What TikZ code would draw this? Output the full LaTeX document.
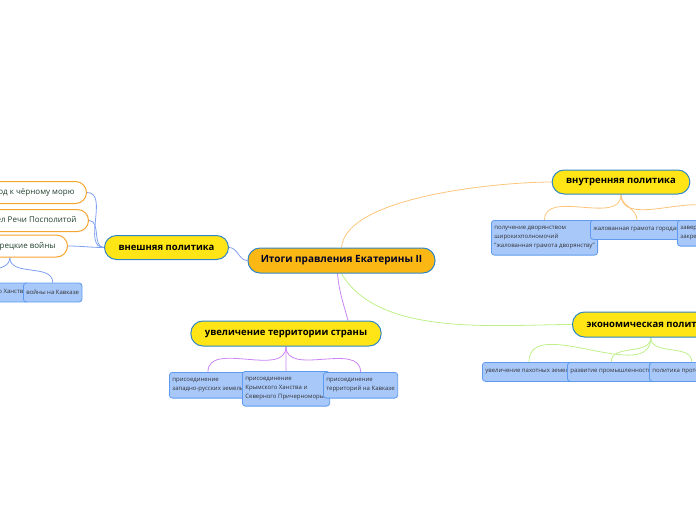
\documentclass[tikz,border=0pt]{standalone}
\usepackage{fontspec}
\setmainfont{Open Sans}
\usetikzlibrary{positioning,backgrounds}
\definecolor{rootfill}{HTML}{FBB714}
\definecolor{topicfill}{HTML}{FFE516}
\definecolor{nodeline}{HTML}{2F86C6}
\definecolor{leaffill}{HTML}{A8C8FA}
\definecolor{leafline}{HTML}{5E9BEE}
\definecolor{subline}{HTML}{F7A531}
\definecolor{subtext}{HTML}{21402F}
\definecolor{extlink}{HTML}{7E9EF2}
\definecolor{intlink}{HTML}{FDC47C}
\definecolor{ecolink}{HTML}{BFF08A}
\definecolor{terlink}{HTML}{CC84F6}
\begin{document}
\begin{tikzpicture}[x=1pt, y=1pt,
  root/.style={draw=nodeline, fill=rootfill, rounded corners=12pt, line width=1pt,
               minimum height=25pt, minimum width=187pt,
               font=\fontsize{10}{12}\selectfont\bfseries, text=black!85!blue},
  topic/.style={draw=nodeline, fill=topicfill, rounded corners=12pt, line width=1pt,
                minimum height=24pt, inner xsep=14pt, font=\fontsize{9.5}{11}\selectfont\bfseries},
  sub/.style={draw=subline, fill=white, rounded corners=11pt, line width=1pt,
              minimum height=22pt, inner xsep=12pt, font=\fontsize{8}{10}\selectfont, text=subtext},
  leaf/.style={draw=leafline, fill=leaffill, rounded corners=3pt, line width=0.8pt,
               inner xsep=3pt, inner ysep=6pt, minimum height=19pt, align=left,
               font=\fontsize{6}{9}\selectfont, text=black!80},
  link/.style={line width=0.8pt}]
  \useasboundingbox (0,0) rectangle (696,-520);
  \clip (0,0) rectangle (696,-520);
  % main topics
  \node[root] (root) at (341.5,-260.5) {Итоги правления Екатерины II};
  \node[topic, minimum width=122pt] (ext) at (166.5,-247.5) {внешняя политика};
  \node[topic, minimum width=136pt] (intl) at (621,-182) {внутренняя политика};
  \node[topic, anchor=west, minimum height=25pt] (econ) at (572,-324.5) {экономическая политика};
  \node[topic, minimum width=187pt, minimum height=25pt] (terr) at (286,-333.5) {увеличение территории страны};
  % foreign policy
  \node[sub, anchor=east] (sea) at (87,-192.5) {выход к чёрному морю};
  \node[sub, anchor=east] (rzp) at (89,-220.5) {раздел Речи Посполитой};
  \node[sub, anchor=east] (rtw) at (68,-246) {русско-турецкие войны};
  \node[leaf, anchor=east] (crim) at (30,-292.5) {присоединение Крымского Ханства};
  \node[leaf, anchor=west] (cauc) at (23,-292.5) {войны на Кавказе};
  % home policy
  \node[leaf, anchor=north west] (nobl) at (491,-220) {получение дворянством\\широкихполномочий\\"жалованная грамота дворянству"};
  \node[leaf, anchor=north west] (town) at (590,-220) {жалованная грамота городам};
  \node[leaf, anchor=north west] (serf) at (677,-220) {завершение\\закрепощения крестьян};
  % economy
  \node[leaf, anchor=north west] (land) at (482,-362) {увеличение пахотных земель};
  \node[leaf, anchor=north west] (ind) at (567,-362) {развитие промышленности};
  \node[leaf, anchor=north west] (prot) at (649,-362) {политика протекционизма};
  % territory
  \node[leaf, anchor=north west] (west) at (169,-372) {присоединение\\западно-русских земель};
  \node[leaf, anchor=north west] (crimea) at (242,-371) {присоединение\\Крымского Ханства и\\Северного Причерноморья};
  \node[leaf, anchor=north west] (kavk) at (323,-372) {присоединение\\территорий на Кавказе};
  \begin{scope}[on background layer]
    \draw[link, extlink] (root.west) to[out=180,in=0] (ext.east);
    \draw[link, extlink] (ext.west) to[out=180,in=0] (sea.east);
    \draw[link, extlink] (ext.west) to[out=180,in=0] (rzp.east);
    \draw[link, extlink] (ext.west) to[out=180,in=0] (rtw.east);
    \draw[link, extlink] (rtw.south) to[out=-90,in=90] (crim.north);
    \draw[link, extlink] (rtw.south) to[out=-90,in=90] (cauc.north);
    \draw[link, intlink] (root.north) to[out=85,in=180,looseness=0.6] (intl.west);
    \draw[link, intlink] (intl.south) to[out=-90,in=90] (nobl.north);
    \draw[link, intlink] (intl.south) to[out=-90,in=90] (town.north);
    \draw[link, intlink] (intl.south) to[out=-90,in=90] (serf.north);
    \draw[link, ecolink] (root.south) to[out=-60,in=180,looseness=0.8] (econ.west);
    \draw[link, ecolink] (econ.south) to[out=-90,in=90] (land.north);
    \draw[link, ecolink] (econ.south) to[out=-90,in=90] (ind.north);
    \draw[link, ecolink] (econ.south) to[out=-90,in=90] (prot.north);
    \draw[link, terlink] ([xshift=-4pt]root.south) to[out=-85,in=105] ([xshift=62pt]terr.north);
    \draw[link, terlink] (terr.south) to[out=-90,in=90] (west.north);
    \draw[link, terlink] (terr.south) to[out=-90,in=90] (crimea.north);
    \draw[link, terlink] (terr.south) to[out=-90,in=90] (kavk.north);
  \end{scope}
\end{tikzpicture}
\end{document}
